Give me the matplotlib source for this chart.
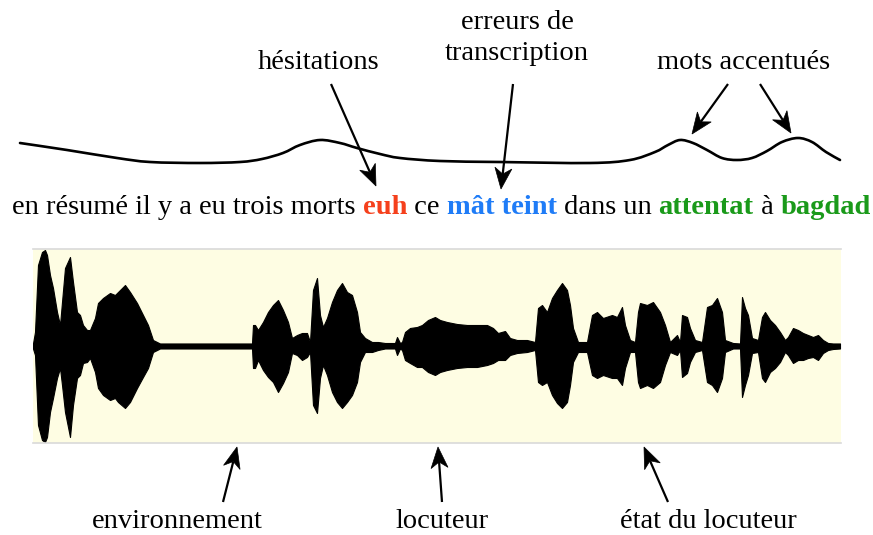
import matplotlib
matplotlib.use("Agg")
import matplotlib.pyplot as plt
import numpy as np
from matplotlib.patches import Polygon, PathPatch
from matplotlib.path import Path

W, H = 873, 535
SERIF = ["Liberation Serif", "DejaVu Serif"]
FS = 20.5

# ---------------- data ----------------
# prosody (pitch) contour: x position, height (px, y down)
pitch_x = [20, 67, 117, 150, 200, 240, 262, 283, 300, 320, 340, 357, 380,
           400, 440, 500, 590, 630, 655, 668, 680, 693, 707, 722, 737,
           752, 767, 782, 798, 812, 826, 840]
pitch_y = [143, 150, 158, 162, 163, 162, 159, 153, 145, 140, 143, 148, 154,
           158, 161, 162, 163, 160, 152, 145, 140, 143, 150, 158, 160,
           158, 151, 142, 138, 142, 152, 160]

# waveform envelope: position in the window, upper and lower amplitude
wave_t = [0, 2, 5, 9, 12, 14, 17, 20, 24, 27,
          29, 32, 37, 40, 44, 47, 50, 54, 57, 62,
          65, 70, 77, 82, 85, 92, 97, 104, 110, 115,
          120, 124, 127, 219, 220, 222, 225, 230, 235, 240,
          245, 250, 255, 259, 264, 269, 274, 277, 280, 284,
          287, 290, 294, 299, 304, 309, 314, 319, 324, 327,
          332, 339, 345, 352, 362, 364, 367, 369, 372, 377,
          384, 389, 395, 402, 407, 414, 424, 434, 444, 454,
          460, 465, 472, 477, 484, 494, 502, 505, 509, 514,
          519, 524, 529, 534, 537, 540, 545, 554, 559, 564,
          570, 579, 584, 589, 592, 597, 602, 605, 607, 614,
          620, 627, 632, 637, 644, 647, 649, 654, 657, 662,
          669, 674, 679, 684, 689, 692, 700, 707, 709, 712,
          715, 719, 725, 729, 732, 737, 742, 747, 752, 755,
          760, 765, 770, 775, 780, 785, 790, 795, 800, 807]
wave_up = [2.5, 14, 81, 94, 96, 91, 71, 58, 34, 21,
           44, 78, 89, 64, 34, 31, 21, 16, 16, 28,
           43, 48, 53, 51, 54, 61, 54, 43, 31, 21,
           6, 4, 2.5, 2.5, 21, 21, 16, 24, 34, 41,
           46, 36, 24, 8, 11, 13, 13, 4, 56, 68,
           31, 19, 28, 44, 56, 63, 54, 51, 34, 14,
           8, 4, 4, 3, 3, 9, 3, 4, 14, 18,
           19, 21, 26, 29, 26, 24, 22, 21, 21, 21,
           18, 13, 15, 8, 6, 6, 4, 38, 41, 34,
           48, 56, 63, 56, 41, 18, 4, 4, 31, 34,
           28, 31, 29, 39, 21, 6, 4, 34, 43, 41,
           44, 34, 21, 4, 11, 4, 31, 29, 18, 6,
           4, 39, 41, 48, 34, 6, 3, 2.5, 49, 38,
           31, 8, 6, 29, 34, 26, 21, 14, 6, 9,
           18, 16, 13, 11, 9, 11, 6, 3, 2.5, 2.5]
wave_lo = [-2.5, -9, -79, -94, -96, -91, -66, -52, -32, -22,
           -39, -66, -91, -59, -32, -29, -17, -16, -12, -26,
           -42, -49, -54, -52, -56, -62, -56, -42, -31, -22,
           -6, -4, -2.5, -2.5, -22, -22, -14, -24, -31, -36,
           -46, -37, -26, -7, -9, -14, -11, -6, -59, -67,
           -32, -19, -29, -46, -56, -62, -56, -49, -36, -16,
           -6, -6, -4, -2.5, -2.5, -9, -2.5, -4, -14, -17,
           -21, -21, -26, -29, -26, -24, -22, -21, -21, -19,
           -17, -14, -14, -9, -7, -6, -4, -36, -39, -36,
           -49, -57, -62, -56, -39, -16, -6, -6, -29, -32,
           -29, -32, -32, -39, -22, -6, -6, -36, -42, -39,
           -42, -36, -19, -6, -9, -4, -31, -27, -16, -6,
           -4, -36, -39, -46, -32, -6, -2.5, -2.5, -51, -39,
           -29, -7, -6, -32, -36, -26, -22, -16, -6, -9,
           -17, -14, -14, -12, -11, -14, -7, -4, -3, -2.5]

sentence_words = ["en résumé il y a eu trois morts ", "euh", " ce ", "mât teint",
                  " dans un ", "attentat", " à ", "bagdad"]
sentence_colors = ["black", "#f5401c", "black", "#1f7cf7", "black", "#1a9a1a",
                   "black", "#1a9a1a"]
sentence_bold = [False, True, False, True, False, True, False, True]

top_labels = ["hésitations", "erreurs de\ntranscription", "mots accentués"]
bottom_labels = ["environnement", "locuteur", "état du locuteur"]

# ---------------- figure ----------------
fig = plt.figure(figsize=(W / 100, H / 100), dpi=100)
ax = fig.add_axes([0, 0, 1, 1])
ax.set_xlim(0, W)
ax.set_ylim(H, 0)
ax.axis("off")


def stealth(tail, tip, lw=1.6, L=21, hw=8.5, notch=6):
    tail = np.asarray(tail, float)
    tip = np.asarray(tip, float)
    d = tip - tail
    d /= np.hypot(*d)
    n = np.array([-d[1], d[0]])
    base = tip - d * L
    ax.plot([tail[0], tip[0] - d[0] * (L - notch)],
            [tail[1], tip[1] - d[1] * (L - notch)],
            color="black", lw=lw, solid_capstyle="butt", zorder=5)
    pts = [tip, base + n * hw, tip - d * (L - notch), base - n * hw]
    ax.add_patch(Polygon(pts, closed=True, fc="black", ec="black", lw=0.5,
                         zorder=6))


def smooth_path(xs, ys):
    # Catmull-Rom through the points, drawn as cubic Bezier segments
    p = np.column_stack([xs, ys]).astype(float)
    ext = np.vstack([p[0], p, p[-1]])
    verts = [tuple(p[0])]
    codes = [Path.MOVETO]
    for i in range(1, len(ext) - 2):
        p0, p1, p2, p3 = ext[i - 1], ext[i], ext[i + 1], ext[i + 2]
        c1 = p1 + (p2 - p0) / 6.0
        c2 = p2 - (p3 - p1) / 6.0
        verts += [tuple(c1), tuple(c2), tuple(p2)]
        codes += [Path.CURVE4] * 3
    return Path(verts, codes)


# pitch contour
ax.add_patch(PathPatch(smooth_path(pitch_x, pitch_y), fc="none", ec="black",
                       lw=1.9, capstyle="round", zorder=3))

# top labels
ax.text(319, 69, top_labels[0], ha="center", va="baseline", fontsize=FS,
        family=SERIF)
ax.text(517, 60, top_labels[1], ha="center", va="baseline", fontsize=FS,
        family=SERIF, linespacing=1.3)
ax.text(744, 69, top_labels[2], ha="center", va="baseline", fontsize=FS,
        family=SERIF)

# top arrows
stealth((331, 84), (376, 186))
stealth((513, 84), (501, 189))
stealth((728, 84), (692, 134))
stealth((760, 84), (791, 133))

# sentence
prev = ax.text(12, 214, sentence_words[0], ha="left", va="baseline",
               fontsize=FS, family=SERIF, color=sentence_colors[0])
fig.canvas.draw()
r = fig.canvas.get_renderer()
for w, c, b in zip(sentence_words[1:], sentence_colors[1:], sentence_bold[1:]):
    bb = prev.get_window_extent(r)
    x_next = ax.transData.inverted().transform((bb.x1, 0))[0]
    prev = ax.text(x_next, 214, w, ha="left", va="baseline", fontsize=FS,
                   family=SERIF, color=c,
                   fontweight="bold" if b else "normal")
    fig.canvas.draw()

# waveform panel
x0, x1, y0, y1 = 33, 841, 249, 443
wax = fig.add_axes([x0 / W, 1 - y1 / H, (x1 - x0) / W, (y1 - y0) / H])
wax.set_facecolor("#fefde3")
wax.set_xlim(0, 808)
wax.set_ylim(-97, 97)
wax.set_xticks([])
wax.set_yticks([])
for s in ["left", "right"]:
    wax.spines[s].set_visible(False)
for s in ["top", "bottom"]:
    wax.spines[s].set_color("#d9d9d9")
    wax.spines[s].set_linewidth(1.2)
wax.fill_between(wave_t, wave_lo, wave_up, facecolor="black", lw=0.8,
                 edgecolor="black")
wax.axhline(0, color="black", lw=3)

# bottom arrows and labels
stealth((223, 502), (237, 447))
stealth((442, 502), (438, 447))
stealth((668, 502), (644, 447))
ax.text(177, 528, bottom_labels[0], ha="center", va="baseline", fontsize=FS,
        family=SERIF)
ax.text(442, 528, bottom_labels[1], ha="center", va="baseline", fontsize=FS,
        family=SERIF)
ax.text(708, 528, bottom_labels[2], ha="center", va="baseline", fontsize=FS,
        family=SERIF)

fig.savefig("out.png", dpi=100)
